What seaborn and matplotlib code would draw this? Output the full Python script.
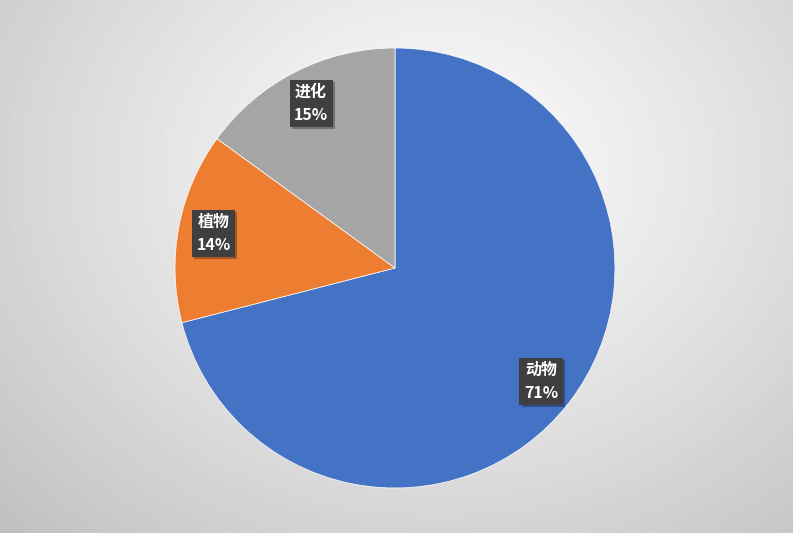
import numpy as np
import matplotlib
matplotlib.use("Agg")
import matplotlib.pyplot as plt
import matplotlib.patheffects as pe
import seaborn as sns

sns.set_theme(style="white")
plt.rcParams['font.family'] = ['Noto Sans CJK SC', 'DejaVu Sans']

# Share of content by topic
categories = ["动物", "植物", "进化"]
shares = [71, 14, 15]
colors = ["#4472C4", "#ED7D31", "#A5A5A5"]

W, H = 793, 533
fig = plt.figure(figsize=(W / 100, H / 100), dpi=100)

# Soft radial background: light near the top middle, grey towards the corners
bg = fig.add_axes([0, 0, 1, 1])
yy, xx = np.mgrid[0:H, 0:W]
cx, cy = 440, 170
d = np.sqrt(((xx - cx) / 520.0) ** 2 + ((yy - cy) / 430.0) ** 2)
shade = np.clip(0.985 - 0.19 * d ** 1.2, 0, 1)
bg.imshow(shade, cmap="gray", vmin=0, vmax=1, aspect="auto",
          extent=[0, W, 0, H], origin="upper", interpolation="bilinear")
bg.set_axis_off()

ax = fig.add_axes([0, 0, 1, 1])
ax.patch.set_alpha(0)

wedges, _, autotexts = ax.pie(
    shares, colors=colors, startangle=90, counterclock=False,
    center=(395, H - 268), radius=220, autopct="%d%%", pctdistance=0.84,
    wedgeprops=dict(linewidth=0.5, edgecolor="white"),
    frame=True,
)
ax.set_xlim(0, W)
ax.set_ylim(0, H)
ax.set_axis_off()

for name, val, t in zip(categories, shares, autotexts):
    t.set_text(f"{name}\n{val}%")
    t.set_color("white")
    t.set_fontsize(11.5)
    t.set_fontweight("bold")
    t.set_linespacing(1.5)
    t.set_ha("center")
    t.set_va("center")
    t.set_bbox(dict(boxstyle="square,pad=0.28", fc="#3f3f3f", ec="none"))
    t.get_bbox_patch().set_path_effects(
        [pe.SimplePatchShadow(offset=(1.5, -1.5), shadow_rgbFace="black", alpha=0.3),
         pe.Normal()])

fig.savefig("out.png", dpi=100)
